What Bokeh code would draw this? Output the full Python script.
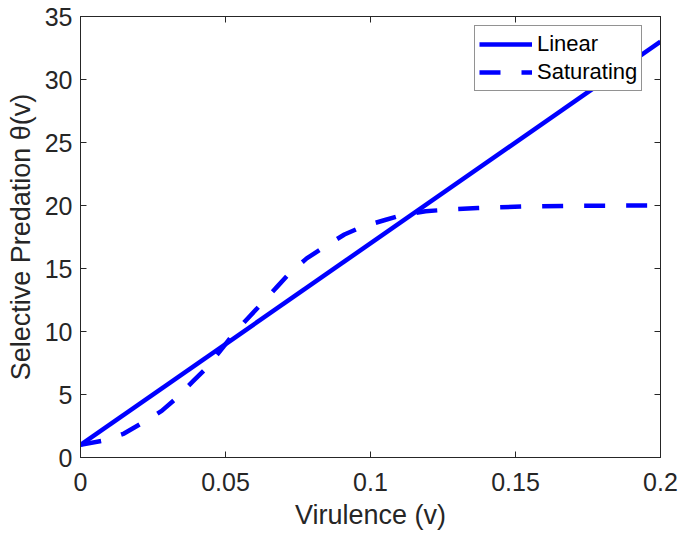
from bokeh.plotting import figure
from bokeh.models import LinearAxis, FixedTicker, Legend, LegendItem
from bokeh.embed import file_html
from bokeh.resources import INLINE

# ---- data ----
v_linear = [0.0, 0.2]
theta_linear = [1.0, 33.0]

v_sat = [0.0, 0.008, 0.015, 0.021, 0.028, 0.033, 0.039, 0.043, 0.049, 0.052,
         0.0575, 0.062, 0.068, 0.072, 0.078, 0.084, 0.091, 0.097, 0.105, 0.111,
         0.119, 0.126, 0.137, 0.152, 0.17, 0.2]
theta_sat = [1.0, 1.35, 1.9, 2.7, 3.7, 4.7, 6.1, 7.0, 8.7, 9.6,
             11.0, 12.1, 13.6, 14.6, 15.8, 16.7, 17.7, 18.3, 18.85, 19.25,
             19.55, 19.66, 19.8, 19.92, 19.98, 20.0]

x_ticks = [0, 0.05, 0.1, 0.15, 0.2]
x_tick_labels = ["0", "0.05", "0.1", "0.15", "0.2"]
y_ticks = [0, 5, 10, 15, 20, 25, 30, 35]

AX = "#262626"
FONT = "Liberation Sans"

p = figure(width=679, height=536, x_range=(0, 0.2), y_range=(0, 35),
           output_backend="svg", toolbar_location=None,
           min_border_left=80, min_border_right=19,
           min_border_top=16, min_border_bottom=79)
p.grid.visible = False
p.outline_line_color = AX
p.outline_line_width = 1
p.background_fill_color = "white"
p.border_fill_color = "white"

r_lin = p.line(v_linear, theta_linear, line_color="#0000FF", line_width=4.5)
r_sat = p.line(v_sat, theta_sat, line_color="#0000FF", line_width=4.5,
               line_dash="21 21", line_join="round")

def style(ax, labels=True):
    ax.axis_line_color = AX
    ax.axis_line_width = 1
    ax.major_tick_line_color = AX
    ax.major_tick_in = 6
    ax.major_tick_out = 0
    ax.minor_tick_line_color = None
    ax.major_label_text_font = FONT
    ax.major_label_text_font_size = "25px"
    ax.major_label_text_color = AX
    if not labels:
        ax.major_label_text_font_size = "0px"
        ax.major_label_text_color = None
        ax.major_label_standoff = 0

xa = p.xaxis[0]
ya = p.yaxis[0]
style(xa)
style(ya)
xa.ticker = FixedTicker(ticks=x_ticks)
xa.major_label_overrides = {t: s for t, s in zip(x_ticks, x_tick_labels)}
ya.ticker = FixedTicker(ticks=y_ticks)
xa.major_label_standoff = 15
ya.major_label_standoff = 8

xa.axis_label = "Virulence (v)"
ya.axis_label = "Selective Predation θ(v)"
for ax in (xa, ya):
    ax.axis_label_text_font = FONT
    ax.axis_label_text_font_size = "27px"
    ax.axis_label_text_font_style = "normal"
    ax.axis_label_text_color = AX
xa.axis_label_standoff = 6
ya.axis_label_standoff = 6

top = LinearAxis(ticker=FixedTicker(ticks=x_ticks))
right = LinearAxis(ticker=FixedTicker(ticks=y_ticks))
style(top, labels=False)
style(right, labels=False)
p.add_layout(top, "above")
p.add_layout(right, "right")

legend = Legend(items=[LegendItem(label="Linear", renderers=[r_lin]),
                       LegendItem(label="Saturating", renderers=[r_sat])],
                location=(394, 366))
legend.label_text_font = FONT
legend.label_text_font_size = "22px"
legend.label_text_color = "black"
legend.border_line_color = AX
legend.border_line_width = 1
legend.background_fill_color = "white"
legend.background_fill_alpha = 1
legend.padding = 4
legend.spacing = 0
legend.margin = 0
legend.glyph_width = 53
legend.glyph_height = 28
legend.label_height = 28
legend.label_standoff = 5
p.add_layout(legend, "center")

open("out.html", "w").write(file_html(p, INLINE))
